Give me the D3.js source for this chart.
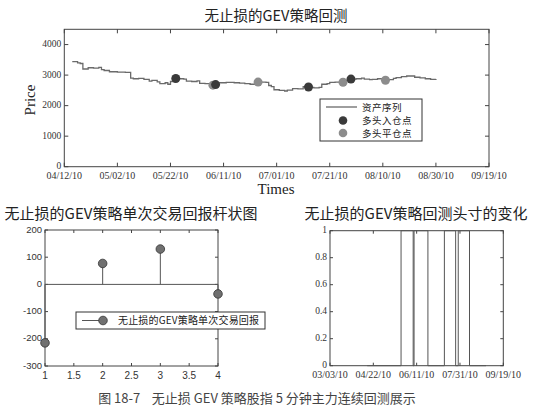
<!DOCTYPE html>
<html><head><meta charset="utf-8">
<script src="https://cdn.jsdelivr.net/npm/d3@7"></script>
<style>
body{margin:0;background:#fff;}
svg{display:block;}
</style></head>
<body>
<svg id="c" width="541" height="413"></svg>
<script>
// ---------- data ----------
const priceDates = ["04/15/10","04/17/10","04/18/10","04/19/10","04/21/10","04/23/10","04/25/10","04/26/10","04/27/10","04/29/10","05/02/10","05/05/10","05/07/10","05/08/10","05/10/10","05/12/10","05/14/10","05/15/10","05/17/10","05/18/10","05/20/10","05/21/10","05/22/10","05/24/10","05/25/10","05/27/10","05/28/10","05/30/10","06/01/10","06/02/10","06/04/10","06/07/10","06/08/10","06/09/10","06/12/10","06/15/10","06/17/10","06/19/10","06/21/10","06/23/10","06/24/10","06/27/10","06/28/10","06/29/10","06/30/10","07/02/10","07/04/10","07/05/10","07/07/10","07/09/10","07/11/10","07/13/10","07/14/10","07/15/10","07/17/10","07/18/10","07/20/10","07/21/10","07/23/10","07/25/10","07/26/10","07/27/10","07/29/10","07/31/10","08/02/10","08/03/10","08/05/10","08/06/10","08/08/10","08/11/10","08/14/10","08/15/10","08/17/10","08/19/10","08/22/10","08/24/10","08/26/10","08/28/10","08/30/10"];
const priceValues = [3440,3400,3380,3200,3240,3230,3250,3180,3150,3110,3100,3090,2900,2880,2890,2860,2800,2830,2780,2720,2750,2700,2790,2890,2880,2870,2800,2790,2810,2730,2720,2680,2690,2750,2760,2750,2740,2720,2700,2790,2770,2760,2660,2620,2520,2500,2480,2510,2560,2550,2620,2610,2600,2580,2600,2700,2720,2760,2770,2760,2770,2820,2870,2880,2900,2870,2850,2860,2880,2850,2890,2920,2950,2970,2930,2910,2880,2860,2870];

const entryDates = ["05/24/10","06/08/10","07/13/10","07/29/10"];
const entryValues = [2890,2690,2610,2870];
const exitDates = ["06/07/10","06/24/10","07/26/10","08/11/10"];
const exitValues = [2670,2770,2765,2830];

const topXTicks = ["04/12/10","05/02/10","05/22/10","06/11/10","07/01/10","07/21/10","08/10/10","08/30/10","09/19/10"];
const topYTicks = [0,1000,2000,3000,4000];

const tradeIndex = [1,2,3,4];
const tradeReturns = [-215,77,130,-35];
const stemXTicks = [1,1.5,2,2.5,3,3.5,4];
const stemYTicks = [-300,-200,-100,0,100,200];

const posDates = ["04/15/10","05/24/10","06/07/10","06/08/10","06/24/10","07/13/10","07/26/10","07/29/10","08/11/10","08/30/10"];
const posValues = [0,1,0,1,0,1,0,1,0,0];
const posXTicks = ["03/03/10","04/22/10","06/11/10","07/31/10","09/19/10"];
const posYTicks = [0,0.2,0.4,0.6,0.8,1];

const titles = ["无止损的GEV策略回测","无止损的GEV策略单次交易回报杆状图","无止损的GEV策略回测头寸的变化"];
const legendTop = ["资产序列","多头入仓点","多头平仓点"];
const legendStem = "无止损的GEV策略单次交易回报";
const caption = "图 18-7    无止损 GEV 策略股指 5 分钟主力连续回测展示";

// ---------- helpers ----------
const parse = d3.timeParse("%m/%d/%y");
const svg = d3.select("#c");
const CJK = "'Noto Sans CJK SC','Noto Sans',sans-serif";
const SERIF = "'Liberation Serif','DejaVu Serif',serif";
const SANS = "'Liberation Sans','DejaVu Sans',sans-serif";
const AX = "#444";

function frame(g, x, y, xTicks, yTicks, xFmt, yFmt, fontFam, tl){
  const [x0,x1] = x.range(), [y0,y1] = y.range(); // y0 bottom, y1 top
  g.append("rect").attr("x",x0).attr("y",y1).attr("width",x1-x0).attr("height",y0-y1)
    .attr("fill","none").attr("stroke",AX).attr("stroke-width",1);
  xTicks.forEach(t=>{
    const px = x(t);
    g.append("line").attr("x1",px).attr("x2",px).attr("y1",y0).attr("y2",y0-tl).attr("stroke",AX);
    g.append("line").attr("x1",px).attr("x2",px).attr("y1",y1).attr("y2",y1+tl).attr("stroke",AX);
    g.append("text").attr("x",px).attr("y",y0+12.5).attr("text-anchor","middle")
      .attr("font-family",fontFam).attr("font-size",10).attr("fill","#333").text(xFmt(t));
  });
  yTicks.forEach(t=>{
    const py = y(t);
    g.append("line").attr("x1",x0).attr("x2",x0+tl).attr("y1",py).attr("y2",py).attr("stroke",AX);
    g.append("line").attr("x1",x1).attr("x2",x1-tl).attr("y1",py).attr("y2",py).attr("stroke",AX);
    g.append("text").attr("x",x0-3).attr("y",py+2.5).attr("text-anchor","end")
      .attr("font-family",fontFam).attr("font-size",9.5).attr("fill","#333").text(yFmt(t));
  });
}

// ---------- top chart ----------
{
  const g = svg.append("g");
  const x = d3.scaleTime().domain([parse("04/12/10"), parse("09/19/10")]).range([64.3, 489]);
  const y = d3.scaleLinear().domain([0,4500]).range([166.7, 29.3]);
  frame(g, x, y, topXTicks.map(parse), topYTicks, d3.timeFormat("%m/%d/%y"), d=>d, SERIF, 4);
  const line = d3.line().x(d=>x(d[0])).y(d=>y(d[1])).curve(d3.curveStepAfter);
  const pts = priceDates.map((d,i)=>[parse(d), priceValues[i]]);
  g.append("path").attr("d", line(pts)).attr("fill","none").attr("stroke","#6a6a6a").attr("stroke-width",1.3);
  g.selectAll(".ex").data(exitDates).join("circle").attr("cx",d=>x(parse(d))).attr("cy",(d,i)=>y(exitValues[i]))
    .attr("r",4.5).attr("fill","#8c8c8c");
  g.selectAll(".en").data(entryDates).join("circle").attr("cx",d=>x(parse(d))).attr("cy",(d,i)=>y(entryValues[i]))
    .attr("r",4.5).attr("fill","#3a3a3a");
  g.append("text").attr("x",276).attr("y",21).attr("text-anchor","middle").attr("font-family",CJK)
    .attr("font-size",14.5).attr("fill","#222").text(titles[0]);
  g.append("text").attr("x",276).attr("y",194).attr("text-anchor","middle").attr("font-family",SERIF)
    .attr("font-size",15).attr("fill","#222").text("Times");
  g.append("text").attr("transform","translate(35,100) rotate(-90)").attr("text-anchor","middle").attr("font-family",SERIF)
    .attr("font-size",15).attr("fill","#222").text("Price");
  // legend
  const lg = g.append("g");
  lg.append("rect").attr("x",320).attr("y",99).attr("width",102).attr("height",42).attr("fill","#fff").attr("stroke","#333");
  lg.append("line").attr("x1",326).attr("x2",357).attr("y1",107).attr("y2",107).attr("stroke","#6a6a6a").attr("stroke-width",1.3);
  lg.append("circle").attr("cx",343).attr("cy",120.5).attr("r",4.3).attr("fill","#3a3a3a");
  lg.append("circle").attr("cx",343).attr("cy",133).attr("r",4.3).attr("fill","#8c8c8c");
  [107,120.5,133].forEach((yy,i)=>{
    lg.append("text").attr("x",362).attr("y",yy+3.5).attr("font-family",CJK).attr("font-size",9.5)
      .attr("letter-spacing",0.5).attr("fill","#222").text(legendTop[i]);
  });
}

// ---------- bottom-left stem chart ----------
{
  const g = svg.append("g");
  const x = d3.scaleLinear().domain([1,4]).range([45, 218]);
  const y = d3.scaleLinear().domain([-300,200]).range([366, 230]);
  frame(g, x, y, stemXTicks, stemYTicks, d=>d, d=>d, SANS, 3);
  g.append("line").attr("x1",x(1)).attr("x2",x(4)).attr("y1",y(0)).attr("y2",y(0)).attr("stroke","#555");
  tradeIndex.forEach((t,i)=>{
    g.append("line").attr("x1",x(t)).attr("x2",x(t)).attr("y1",y(0)).attr("y2",y(tradeReturns[i])).attr("stroke","#555");
    g.append("circle").attr("cx",x(t)).attr("cy",y(tradeReturns[i])).attr("r",4.3)
      .attr("fill","#707070").attr("stroke","#333").attr("stroke-width",0.8);
  });
  g.append("text").attr("x",131).attr("y",219).attr("text-anchor","middle").attr("font-family",CJK)
    .attr("font-size",15).attr("fill","#222").text(titles[1]);
  const lg = g.append("g");
  lg.append("rect").attr("x",76).attr("y",312).attr("width",189).attr("height",17).attr("fill","#fff").attr("stroke","#333");
  lg.append("line").attr("x1",82).attr("x2",103).attr("y1",320.5).attr("y2",320.5).attr("stroke","#555");
  lg.append("circle").attr("cx",103).attr("cy",320.5).attr("r",4.3).attr("fill","#707070").attr("stroke","#333").attr("stroke-width",0.8);
  lg.append("text").attr("x",118).attr("y",324).attr("font-family",CJK).attr("font-size",10)
    .attr("textLength",141).attr("lengthAdjust","spacing").attr("fill","#222").text(legendStem);
}

// ---------- bottom-right position chart ----------
{
  const g = svg.append("g");
  const x = d3.scaleTime().domain([parse("03/03/10"), parse("09/19/10")]).range([330, 503.3]);
  const y = d3.scaleLinear().domain([0,1]).range([365.7, 230.7]);
  frame(g, x, y, posXTicks.map(parse), posYTicks, d3.timeFormat("%m/%d/%y"), d=>d, SERIF, 3);
  const line = d3.line().x(d=>x(d[0])).y(d=>y(d[1])).curve(d3.curveStepAfter);
  const pts = posDates.map((d,i)=>[parse(d), posValues[i]]);
  g.append("path").attr("d", line(pts)).attr("fill","none").attr("stroke","#555").attr("stroke-width",1);
  g.append("text").attr("x",416).attr("y",219).attr("text-anchor","middle").attr("font-family",CJK)
    .attr("font-size",15).attr("fill","#222").text(titles[2]);
}

// caption
svg.append("text").attr("x",257).attr("y",403).attr("text-anchor","middle").attr("font-family",CJK)
  .attr("font-size",13).attr("fill","#444").style("white-space","pre").text(caption);
</script>
</body></html>
